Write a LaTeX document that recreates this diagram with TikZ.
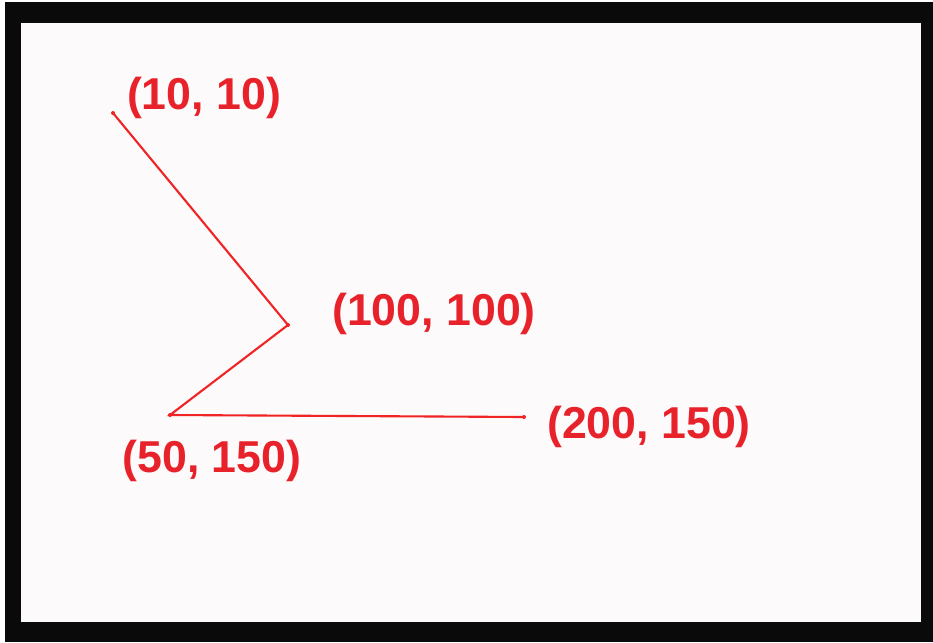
\documentclass[tikz,border=0pt]{standalone}
\usepackage{fontspec}
\newfontfamily\labelfont{Liberation Sans}
\usepackage{tikz}
\usetikzlibrary{calc}
\usepackage{xcolor}
\definecolor{framegray}{HTML}{0A0A0A}
\definecolor{paper}{HTML}{FCFAFA}
\definecolor{linered}{HTML}{F02424}
\definecolor{textred}{HTML}{E8222A}

\tikzset{
  ptlabel/.style={textred, inner sep=0pt, font=\labelfont\bfseries\fontsize{12.7}{14}\selectfont},
  polyline/.style={linered, line width=0.6pt, line join=miter},
}

\begin{document}
\begin{tikzpicture}[x=0.01cm, y=-0.01cm]
  \useasboundingbox (0,0) rectangle (933,642);
  \fill[white] (0,0) rectangle (933,642);
  \fill[framegray] (5,2) rectangle (933,642);
  \fill[paper] (21,23) rectangle (921,622);
  % the four points of the polyline
  \coordinate (p1) at (113,113);
  \coordinate (p2) at (288,325);
  \coordinate (p3) at (170,415);
  \coordinate (p4) at (524,417);
  \draw[polyline] (p1) -- (p2) -- (p3) -- (p4);
  \foreach \p in {p1,p2,p3,p4} \fill[linered] (\p) circle (2);
  % coordinate labels
  \node[ptlabel] (l1) at (204,98) {(10, 10)};
  \node[ptlabel] (l2) at (434,314) {(100, 100)};
  \node[ptlabel] (l3) at (212,461) {(50, 150)};
  \node[ptlabel] (l4) at (649,427) {(200, 150)};
\end{tikzpicture}
\end{document}
